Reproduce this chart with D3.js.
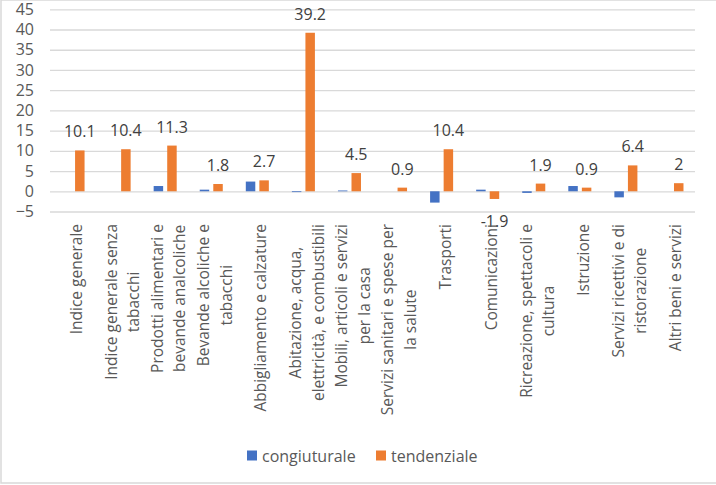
<!DOCTYPE html>
<html>
<head>
<meta charset="utf-8">
<script src="https://cdn.jsdelivr.net/npm/d3@7"></script>
<style>
    html, body { margin: 0; padding: 0; background: #fff; }
    svg { display: block; font-family: "Open Sans", "Noto Sans", sans-serif; }
</style>
</head>
<body>
<div id="mainChart"></div>
<script>
// categorie (asse x), una riga per riga di testo
const categories = [
    ['Indice generale'],
    ['Indice generale senza', 'tabacchi'],
    ['Prodotti alimentari e', 'bevande analcoliche'],
    ['Bevande alcoliche e', 'tabacchi'],
    ['Abbigliamento e calzature'],
    ['Abitazione, acqua,', 'elettricità, e combustibili'],
    ['Mobili, articoli e servizi', 'per la casa'],
    ['Servizi sanitari e spese per', 'la salute'],
    ['Trasporti'],
    ['Comunicazioni'],
    ['Ricreazione, spettacoli e', 'cultura'],
    ['Istruzione'],
    ['Servizi ricettivi e di', 'ristorazione'],
    ['Altri beni e servizi']
];
const congiunturale = [0, 0, 1.3, 0.4, 2.4, -0.2, 0.2, 0, -2.8, 0.4, -0.4, 1.3, -1.5, 0];
const tendenziale = [10.1, 10.4, 11.3, 1.8, 2.7, 39.2, 4.5, 0.9, 10.4, -1.9, 1.9, 0.9, 6.4, 2];
const seriesNames = ['congiuturale', 'tendenziale'];
const yTicks = [-5, 0, 5, 10, 15, 20, 25, 30, 35, 40, 45];

const width = 716, height = 485;
const margin = { top: 9.3, right: 21, bottom: 273.5, left: 50 };
const colors = ['#4472C4', '#ED7D31'];
const textColor = '#595959';

const svg = d3.select('#mainChart').append('svg')
    .attr('width', width)
    .attr('height', height);

// cornice
svg.append('rect')
    .attr('x', 1).attr('y', 0)
    .attr('width', width + 10).attr('height', height - 2)
    .attr('fill', 'none')
    .attr('stroke', '#d9d9d9')
    .attr('stroke-width', 1.5);

const x = d3.scaleBand()
    .domain(d3.range(categories.length))
    .range([margin.left, width - margin.right]);

const xSeries = d3.scaleBand()
    .domain(seriesNames)
    .range([0, x.bandwidth()])
    .paddingInner(0.3)
    .paddingOuter(0.85);

const y = d3.scaleLinear()
    .domain([-5, 45])
    .range([height - margin.bottom, margin.top]);

// griglia + etichette asse y
const yAxis = g => g
    .attr('transform', `translate(${margin.left},0)`)
    .call(d3.axisLeft(y).tickValues(yTicks).tickSize(-(width - margin.right - margin.left)).tickPadding(16))
    .call(g => g.select('.domain').remove())
    .call(g => g.selectAll('.tick line').attr('stroke', '#d9d9d9').attr('stroke-width', 1.3))
    .call(g => g.selectAll('.tick text')
        .attr('fill', textColor)
        .attr('font-size', 16)
        .attr('font-family', '"Open Sans", sans-serif'));

svg.append('g').call(yAxis);

const data = categories.map((c, i) => ({ i, values: [congiunturale[i], tendenziale[i]] }));

// barre
const groups = svg.append('g').selectAll('g')
    .data(data)
    .join('g')
    .attr('transform', d => `translate(${x(d.i)},0)`);

groups.selectAll('rect')
    .data(d => d.values.map((v, k) => ({ k, v })))
    .join('rect')
    .attr('x', d => xSeries(seriesNames[d.k]))
    .attr('width', xSeries.bandwidth())
    .attr('y', d => y(Math.max(0, d.v)))
    .attr('height', d => Math.abs(y(d.v) - y(0)))
    .attr('fill', d => colors[d.k]);

// etichette dati (solo tendenziale)
svg.append('g').selectAll('text')
    .data(data)
    .join('text')
    .attr('x', d => x(d.i) + xSeries('tendenziale') + xSeries.bandwidth() / 2)
    .attr('y', d => d.values[1] >= 0 ? y(d.values[1]) - 13 : y(d.values[1]) + 28)
    .attr('text-anchor', 'middle')
    .attr('font-size', 16)
    .attr('fill', '#404040')
    .text(d => String(d.values[1]));

// etichette categorie ruotate
const labelTop = 224;
const lineStep = 22.5;
const catLabels = svg.append('g').selectAll('g')
    .data(data)
    .join('g')
    .attr('transform', d => `translate(${x(d.i) + x.bandwidth() / 2 + 3},0) rotate(-90)`);

catLabels.each(function (d) {
    const g = d3.select(this);
    const lines = categories[d.i];
    const texts = lines.map((line, j) => g.append('text')
        .attr('y', (j - (lines.length - 1) / 2) * lineStep)
        .attr('dominant-baseline', 'central')
        .attr('text-anchor', 'middle')
        .attr('font-size', 15.5)
        .attr('fill', textColor)
        .text(line));
    const w = d3.max(texts, t => t.node().getComputedTextLength());
    texts.forEach(t => t.attr('x', -(labelTop + w / 2)));
});

// legenda
const legend = svg.append('g');
const legendX = [247, 376];
seriesNames.forEach((name, k) => {
    legend.append('rect')
        .attr('x', legendX[k]).attr('y', 450.5)
        .attr('width', 10).attr('height', 10)
        .attr('fill', colors[k]);
    legend.append('text')
        .attr('x', legendX[k] + 15).attr('y', 455.5)
        .attr('dominant-baseline', 'central')
        .attr('font-size', 16)
        .attr('fill', textColor)
        .text(name);
});
</script>
</body>
</html>
